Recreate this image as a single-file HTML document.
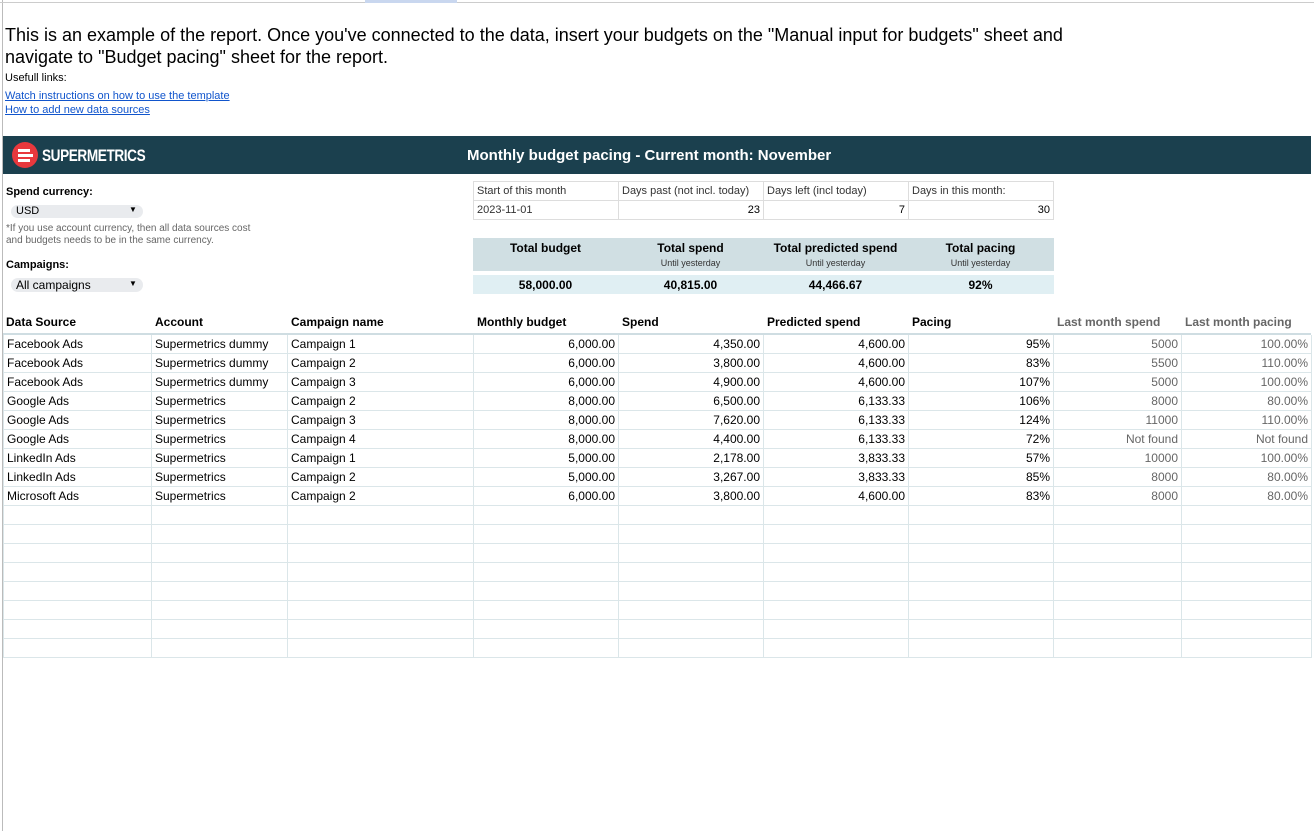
<!DOCTYPE html>
<html><head><meta charset="utf-8"><style>
body{margin:0;width:1314px;height:831px;background:#fff;font-family:"Liberation Sans",Arial,sans-serif;position:relative;overflow:hidden;color:#000}
.a{position:absolute;white-space:nowrap}
.r{text-align:right}
.c{text-align:center}
.b{font-weight:bold}
.g{color:#666}
table{border-collapse:collapse;position:absolute}
td{padding:0 3px;height:18px;font-size:12px;white-space:nowrap;overflow:hidden}
</style></head><body>
<div class="a" style="left:2px;top:0;width:1px;height:831px;background:#bbb"></div>
<div class="a" style="left:0;top:0;width:1314px;height:2px;border-bottom:1px solid #ccc"></div>
<div class="a" style="left:365px;top:0;width:92px;height:3px;background:#c9d7ef"></div>
<div class="a" style="left:5px;top:24px;font-size:18px;line-height:22px">This is an example of the report. Once you've connected to the data, insert your budgets on the "Manual input for budgets" sheet and<br>navigate to "Budget pacing" sheet for the report.</div>
<div class="a" style="left:5px;top:72px;font-size:11px">Usefull links:</div>
<div class="a" style="left:5px;top:90px;font-size:11px;color:#1155cc;text-decoration:underline">Watch instructions on how to use the template</div>
<div class="a" style="left:5px;top:104px;font-size:11px;color:#1155cc;text-decoration:underline">How to add new data sources</div>

<div class="a" style="left:3px;top:136px;width:1308px;height:38px;background:#1b404e"></div>
<div class="a" style="left:12px;top:142px;width:26px;height:26px;border-radius:50%;background:#e8383d"></div>
<div class="a" style="left:18px;top:149px;width:12px;height:3px;background:#fff"></div>
<div class="a" style="left:18px;top:154px;width:15px;height:3px;background:#fff"></div>
<div class="a" style="left:18px;top:159px;width:12px;height:3px;background:#fff"></div>
<div class="a b" style="left:42px;top:146px;font-size:17px;color:#fff;letter-spacing:-0.5px;transform:scaleX(0.8);transform-origin:left">SUPERMETRICS</div>
<div class="a b" style="left:467px;top:147px;font-size:15px;color:#fff">Monthly budget pacing - Current month: November</div>

<div class="a b" style="left:6px;top:186px;font-size:11px">Spend currency:</div>
<div class="a" style="left:11px;top:205px;width:132px;height:13px;border-radius:7px;background:#e9ebee"></div>
<div class="a" style="left:16px;top:205px;font-size:11px">USD</div>
<div class="a" style="left:129px;top:205px;font-size:8px">▼</div>
<div class="a g" style="left:6px;top:223px;font-size:10px;line-height:12px">*If you use account currency, then all data sources cost<br>and budgets needs to be in the same currency.</div>
<div class="a b" style="left:6px;top:259px;font-size:11px">Campaigns:</div>
<div class="a" style="left:11px;top:278px;width:132px;height:14px;border-radius:7px;background:#e9ebee"></div>
<div class="a" style="left:16px;top:278px;font-size:12px">All campaigns</div>
<div class="a" style="left:129px;top:279px;font-size:8px">▼</div>

<table style="left:473px;top:181px;width:581px;font-size:11px">
<tr><td style="border:1px solid #ddd;width:138px;font-size:11px;color:#333">Start of this month</td><td style="border:1px solid #ddd;width:138px;font-size:11px;color:#333">Days past (not incl. today)</td><td style="border:1px solid #ddd;width:138px;font-size:11px;color:#333">Days left (incl today)</td><td style="border:1px solid #ddd;font-size:11px;color:#333">Days in this month:</td></tr>
<tr><td style="border:1px solid #ddd;font-size:11px;color:#333">2023-11-01</td><td class="r" style="border:1px solid #ddd;font-size:11px">23</td><td class="r" style="border:1px solid #ddd;font-size:11px">7</td><td class="r" style="border:1px solid #ddd;font-size:11px">30</td></tr>
</table>

<div class="a" style="left:473px;top:238px;width:581px;height:33px;background:#d0dfe3"></div>
<div class="a" style="left:473px;top:275px;width:581px;height:19px;background:#e0eff3"></div>
<div class="a b c" style="left:473px;top:241px;width:145px;font-size:12px">Total budget</div>
<div class="a b c" style="left:618px;top:241px;width:145px;font-size:12px">Total spend</div>
<div class="a b c" style="left:763px;top:241px;width:145px;font-size:12px">Total predicted spend</div>
<div class="a b c" style="left:908px;top:241px;width:145px;font-size:12px">Total pacing</div>
<div class="a c" style="left:618px;top:258px;width:145px;font-size:9px;color:#333">Until yesterday</div>
<div class="a c" style="left:763px;top:258px;width:145px;font-size:9px;color:#333">Until yesterday</div>
<div class="a c" style="left:908px;top:258px;width:145px;font-size:9px;color:#333">Until yesterday</div>
<div class="a b c" style="left:473px;top:278px;width:145px;font-size:12px">58,000.00</div>
<div class="a b c" style="left:618px;top:278px;width:145px;font-size:12px">40,815.00</div>
<div class="a b c" style="left:763px;top:278px;width:145px;font-size:12px">44,466.67</div>
<div class="a b c" style="left:908px;top:278px;width:145px;font-size:12px">92%</div>

<div class="a b" style="left:6px;top:315px;font-size:12px">Data Source</div>
<div class="a b" style="left:155px;top:315px;font-size:12px">Account</div>
<div class="a b" style="left:291px;top:315px;font-size:12px">Campaign name</div>
<div class="a b" style="left:477px;top:315px;font-size:12px">Monthly budget</div>
<div class="a b" style="left:622px;top:315px;font-size:12px">Spend</div>
<div class="a b" style="left:767px;top:315px;font-size:12px">Predicted spend</div>
<div class="a b" style="left:912px;top:315px;font-size:12px">Pacing</div>
<div class="a b g" style="left:1057px;top:315px;font-size:12px">Last month spend</div>
<div class="a b g" style="left:1185px;top:315px;font-size:12px">Last month pacing</div>
<div class="a" style="left:3px;top:333px;width:1308px;height:2px;background:#cfdde2"></div>

<table style="left:3px;top:335px;width:1309px">
<colgroup><col style="width:148px"><col style="width:136px"><col style="width:186px"><col style="width:145px"><col style="width:145px"><col style="width:145px"><col style="width:145px"><col style="width:128px"><col></colgroup>
<tbody style="font-size:12px">
<tr><td>Facebook Ads</td><td>Supermetrics dummy</td><td>Campaign 1</td><td class="r">6,000.00</td><td class="r">4,350.00</td><td class="r">4,600.00</td><td class="r">95%</td><td class="r g">5000</td><td class="r g">100.00%</td></tr>
<tr><td>Facebook Ads</td><td>Supermetrics dummy</td><td>Campaign 2</td><td class="r">6,000.00</td><td class="r">3,800.00</td><td class="r">4,600.00</td><td class="r">83%</td><td class="r g">5500</td><td class="r g">110.00%</td></tr>
<tr><td>Facebook Ads</td><td>Supermetrics dummy</td><td>Campaign 3</td><td class="r">6,000.00</td><td class="r">4,900.00</td><td class="r">4,600.00</td><td class="r">107%</td><td class="r g">5000</td><td class="r g">100.00%</td></tr>
<tr><td>Google Ads</td><td>Supermetrics</td><td>Campaign 2</td><td class="r">8,000.00</td><td class="r">6,500.00</td><td class="r">6,133.33</td><td class="r">106%</td><td class="r g">8000</td><td class="r g">80.00%</td></tr>
<tr><td>Google Ads</td><td>Supermetrics</td><td>Campaign 3</td><td class="r">8,000.00</td><td class="r">7,620.00</td><td class="r">6,133.33</td><td class="r">124%</td><td class="r g">11000</td><td class="r g">110.00%</td></tr>
<tr><td>Google Ads</td><td>Supermetrics</td><td>Campaign 4</td><td class="r">8,000.00</td><td class="r">4,400.00</td><td class="r">6,133.33</td><td class="r">72%</td><td class="r g">Not found</td><td class="r g">Not found</td></tr>
<tr><td>LinkedIn Ads</td><td>Supermetrics</td><td>Campaign 1</td><td class="r">5,000.00</td><td class="r">2,178.00</td><td class="r">3,833.33</td><td class="r">57%</td><td class="r g">10000</td><td class="r g">100.00%</td></tr>
<tr><td>LinkedIn Ads</td><td>Supermetrics</td><td>Campaign 2</td><td class="r">5,000.00</td><td class="r">3,267.00</td><td class="r">3,833.33</td><td class="r">85%</td><td class="r g">8000</td><td class="r g">80.00%</td></tr>
<tr><td>Microsoft Ads</td><td>Supermetrics</td><td>Campaign 2</td><td class="r">6,000.00</td><td class="r">3,800.00</td><td class="r">4,600.00</td><td class="r">83%</td><td class="r g">8000</td><td class="r g">80.00%</td></tr>
<tr><td></td><td></td><td></td><td></td><td></td><td></td><td></td><td></td><td></td></tr>
<tr><td></td><td></td><td></td><td></td><td></td><td></td><td></td><td></td><td></td></tr>
<tr><td></td><td></td><td></td><td></td><td></td><td></td><td></td><td></td><td></td></tr>
<tr><td></td><td></td><td></td><td></td><td></td><td></td><td></td><td></td><td></td></tr>
<tr><td></td><td></td><td></td><td></td><td></td><td></td><td></td><td></td><td></td></tr>
<tr><td></td><td></td><td></td><td></td><td></td><td></td><td></td><td></td><td></td></tr>
<tr><td></td><td></td><td></td><td></td><td></td><td></td><td></td><td></td><td></td></tr>
<tr><td></td><td></td><td></td><td></td><td></td><td></td><td></td><td></td><td></td></tr>
</tbody></table>
<style>table[style*="top:335px"] td{border:1px solid #dbe6e9;border-top:none}</style>
</body></html>
